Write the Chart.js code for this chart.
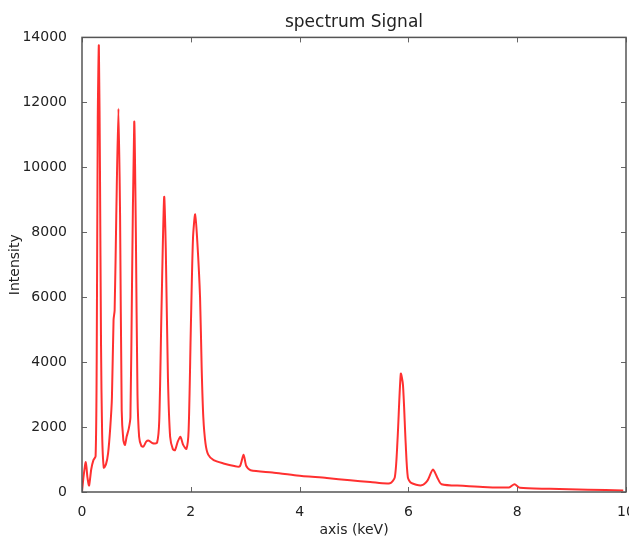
<!DOCTYPE html>
<html>
<head>
<meta charset="utf-8">
<script src="https://cdn.jsdelivr.net/npm/chart.js@4.4.0/dist/chart.umd.min.js"></script>
<style>
  html, body { margin: 0; padding: 0; background: #fff; }
  #wrap { width: 629px; height: 540px; }
</style>
</head>
<body>
<div id="wrap"><canvas id="spectrumChart" width="629" height="540"></canvas></div>
<script>
// Datos del espectro
const energia = [
    0.00, 0.03, 0.07, 0.10, 0.13, 0.17, 0.21, 0.25, 0.27, 0.29,
    0.31, 0.33, 0.35, 0.37, 0.40, 0.44, 0.48, 0.52, 0.55, 0.58,
    0.60, 0.63, 0.67, 0.70, 0.73, 0.76, 0.79, 0.82, 0.86, 0.89,
    0.92, 0.96, 0.99, 1.02, 1.05, 1.09, 1.13, 1.18, 1.23, 1.30,
    1.38, 1.42, 1.46, 1.51, 1.54, 1.58, 1.62, 1.67, 1.71, 1.76,
    1.81, 1.86, 1.92, 1.96, 2.00, 2.04, 2.08, 2.12, 2.17, 2.20,
    2.23, 2.27, 2.32, 2.42, 2.60, 2.80, 2.90, 2.97, 3.02, 3.10,
    3.50, 3.95, 4.50, 4.93, 5.30, 5.66, 5.75, 5.80, 5.86, 5.90,
    5.95, 5.99, 6.05, 6.24, 6.35, 6.45, 6.53, 6.61, 7.00, 7.37,
    7.85, 7.95, 8.05, 8.60, 9.30, 9.95
];
const intensidad = [
    0, 500, 920, 450, 200, 700, 980, 1100, 4000, 11500,
    13750, 10000, 4500, 1800, 750, 850, 1200, 2000, 2900, 5300,
    5600, 8500, 11800, 8500, 2500, 1600, 1450, 1700, 1950, 2300,
    6500, 11400, 8000, 3000, 1700, 1420, 1400, 1550, 1580, 1500,
    1520, 2200, 5500, 9080, 7500, 3500, 1700, 1320, 1290, 1550,
    1700, 1450, 1330, 1900, 5000, 7800, 8550, 7700, 6000, 3800,
    2300, 1500, 1150, 980, 880, 800, 790, 1150, 800, 670,
    600, 510, 430, 360, 310, 270, 450, 1600, 3640, 3300,
    1500, 450, 280, 205, 350, 690, 450, 240, 190, 155,
    140, 240, 130, 100, 70, 50
];
const ticksX = [0, 2, 4, 6, 8, 10];
const ticksY = [0, 2000, 4000, 6000, 8000, 10000, 12000, 14000];

const colorTexto = '#222';
const fuente = "'DejaVu Sans', sans-serif";

// Marco completo y marcas hacia adentro (estilo matplotlib)
const marcoPlugin = {
    id: 'marco',
    afterDatasetsDraw(chart) {
        const ctx = chart.ctx;
        const a = chart.chartArea;
        const sx = chart.scales.x;
        const sy = chart.scales.y;
        ctx.save();
        ctx.strokeStyle = '#666';
        ctx.lineWidth = 1;
        ticksX.forEach(v => {
            const px = Math.round(sx.getPixelForValue(v)) + 0.5;
            ctx.beginPath();
            ctx.moveTo(px, a.bottom); ctx.lineTo(px, a.bottom - 5);
            ctx.moveTo(px, a.top); ctx.lineTo(px, a.top + 5);
            ctx.stroke();
        });
        ticksY.forEach(v => {
            const py = Math.round(sy.getPixelForValue(v)) + 0.5;
            ctx.beginPath();
            ctx.moveTo(a.left, py); ctx.lineTo(a.left + 5, py);
            ctx.moveTo(a.right, py); ctx.lineTo(a.right - 5, py);
            ctx.stroke();
        });
        ctx.strokeStyle = '#555';
        ctx.lineWidth = 1.5;
        ctx.strokeRect(a.left, a.top, a.right - a.left, a.bottom - a.top);
        ctx.restore();
    }
};

document.addEventListener('DOMContentLoaded', () => {
    const lienzo = document.getElementById('spectrumChart');
    new Chart(lienzo.getContext('2d'), {
        type: 'line',
        data: {
            datasets: [{
                label: 'spectrum',
                data: energia.map((e, i) => ({ x: e, y: intensidad[i] })),
                borderColor: 'rgba(255, 25, 25, 0.9)',
                borderWidth: 2,
                pointRadius: 0,
                tension: 0.25,
                fill: false
            }]
        },
        options: {
            responsive: false,
            animation: false,
            layout: { padding: { left: 0, right: 3, top: 0, bottom: 0 } },
            plugins: {
                legend: { display: false },
                tooltip: { enabled: false },
                title: {
                    display: true,
                    fullSize: false,
                    text: 'spectrum Signal',
                    color: colorTexto,
                    font: { family: fuente, size: 17, weight: 'normal', lineHeight: 1.2 },
                    padding: { top: 12, bottom: 5 }
                }
            },
            scales: {
                x: {
                    type: 'linear',
                    min: 0,
                    max: 10,
                    afterFit: s => { s.height = 48; s.paddingRight = 0; s.paddingLeft = 0; },
                    afterBuildTicks: s => { s.ticks = ticksX.map(v => ({ value: v })); },
                    grid: { display: false },
                    border: { display: false },
                    ticks: { color: colorTexto, font: { family: fuente, size: 14 }, padding: 4, maxRotation: 0 },
                    title: {
                        display: true,
                        text: 'axis (keV)',
                        color: colorTexto,
                        font: { family: fuente, size: 14 },
                        padding: { top: 0, bottom: 1 }
                    }
                },
                y: {
                    min: 0,
                    max: 14000,
                    afterFit: s => { s.width = 82; s.paddingTop = 0; s.paddingBottom = 0; },
                    afterBuildTicks: s => { s.ticks = ticksY.map(v => ({ value: v })); },
                    grid: { display: false },
                    border: { display: false },
                    ticks: {
                        color: colorTexto,
                        font: { family: fuente, size: 14 },
                        padding: 7,
                        callback: v => String(v)
                    },
                    title: {
                        display: true,
                        text: 'Intensity',
                        color: colorTexto,
                        font: { family: fuente, size: 14 },
                        padding: { top: 7, bottom: 0 }
                    }
                }
            }
        },
        plugins: [marcoPlugin]
    });
});
</script>
</body>
</html>
